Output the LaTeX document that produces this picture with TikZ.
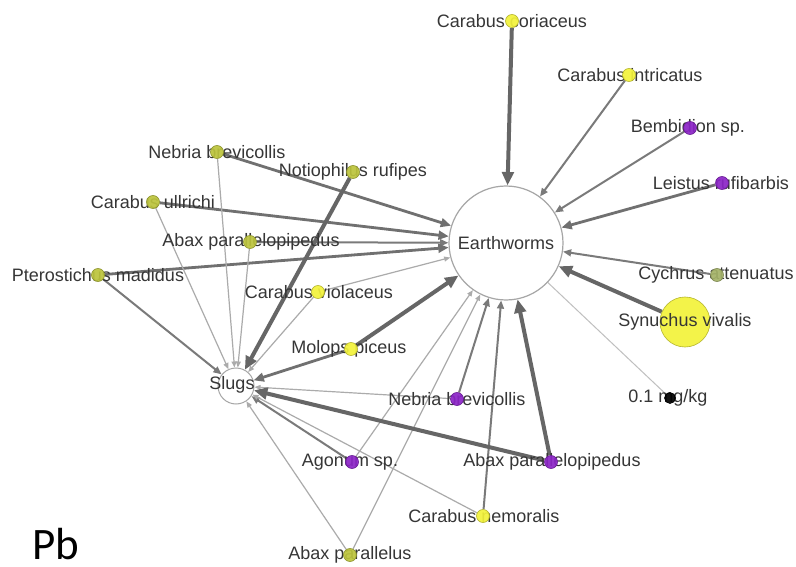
\documentclass[tikz,border=0pt]{standalone}
\usepackage{fontspec}
\setmainfont{Liberation Sans}
\newfontfamily\pbfont{Carlito}
\usetikzlibrary{arrows.meta}
\pgfdeclarelayer{bg}
\pgfsetlayers{bg,main}
\definecolor{olv}{HTML}{BCC43C}
\definecolor{yel}{HTML}{F2F23A}
\definecolor{pur}{HTML}{8B24C6}
\definecolor{cyc}{HTML}{A4B268}
\definecolor{txt}{HTML}{363636}
\begin{document}
\begin{tikzpicture}[x=1pt,y=-1pt,
  dot/.style={circle, inner sep=0pt, minimum size=13pt, draw=#1!75!black, line width=0.6pt, fill=#1, fill opacity=0.92},
  lab/.style={font=\fontsize{18}{18}\selectfont, text=txt, inner sep=0pt},
  big/.style={circle, draw=black!35, line width=1.2pt, fill=white, inner sep=0pt},
  arr/.style={-{Triangle[length=3pt 2.6, width=2pt 2.4]}},
  w4/.style={arr, line width=4pt, draw=black!60},
  w3/.style={arr, line width=2.8pt, draw=black!56},
  w2/.style={arr, line width=2pt, draw=black!52},
  w1/.style={arr, line width=1.2pt, draw=black!33},
  w0/.style={line width=1pt, draw=black!25}
]
\useasboundingbox (0,0) rectangle (796,567);

% hubs
\node[big, minimum size=114pt] (ew) at (506,243) {};
\node[lab] (ewl) at (506,243) {Earthworms};
\node[big, minimum size=36pt, line width=1pt] (sl) at (236,386) {};
\node[lab] (sll) at (232,385) {Slugs};

% species (label first, dot on top)
\node[lab] (lcc) at (512,21) {Carabus coriaceus};
\node[dot=yel] (cc) at (512,21) {};
\node[lab] (lci) at (630,75) {Carabus intricatus};
\node[dot=yel] (ci) at (629,75) {};
\node[lab] (lbs) at (688,128) {Bembidion sp.};
\node[dot=pur] (bs) at (690,128) {};
\node[lab] (llr) at (721,183) {Leistus rufibarbis};
\node[dot=pur] (lr) at (722,183) {};
\node[lab] (lca) at (716,275) {Cychrus attenuatus};
\node[dot=cyc] (ca) at (717,275) {};
\node[dot=yel, minimum size=50pt] (sv) at (685,322) {};
\node[lab] (lsv) at (685,322) {Synuchus vivalis};
\node[lab] (lmg) at (668,398) {0.1 mg/kg};
\node[dot=black, minimum size=11pt] (mg) at (670,398) {};
\node[lab] (lnbp) at (457,399) {Nebria brevicollis};
\node[dot=pur] (nbp) at (457,399) {};
\node[lab] (lapp) at (552,462) {Abax parallelopipedus};
\node[dot=pur] (app) at (551,462) {};
\node[lab] (las) at (350,462) {Agonum sp.};
\node[dot=pur] (as) at (352,462) {};
\node[lab] (lcn) at (484,516) {Carabus nemoralis};
\node[dot=yel] (cn) at (483,516) {};
\node[lab] (lap) at (350,555) {Abax parallelus};
\node[dot=olv] (ap) at (350,555) {};
\node[lab] (lmp) at (349,349) {Molops piceus};
\node[dot=yel] (mp) at (351,349) {};
\node[lab] (lnby) at (217,152) {Nebria brevicollis};
\node[dot=olv] (nby) at (217,152) {};
\node[lab] (lnr) at (353,172) {Notiophilus rufipes};
\node[dot=olv] (nr) at (353,172) {};
\node[lab] (lcu) at (153,202) {Carabus ullrichi};
\node[dot=olv] (cu) at (153,202) {};
\node[lab] (lapy) at (251,242) {Abax parallelopipedus};
\node[dot=olv] (apy) at (250,242) {};
\node[lab] (lpm) at (98,275) {Pterostichus madidus};
\node[dot=olv] (pm) at (98,275) {};
\node[lab] (lcv) at (319,292) {Carabus violaceus};
\node[dot=yel] (cv) at (318,292) {};

\node[font=\pbfont\fontsize{45}{45}\selectfont, anchor=base west, inner sep=0pt, text depth=0pt] (pb) at (32,559) {Pb};

\begin{pgfonlayer}{bg}
\fill[white] (0,0) rectangle (796,567);
% to Earthworms
\draw[w4] (cc) -- (ew);
\draw[w2] (ci) -- (ew);
\draw[w2] (bs) -- (ew);
\draw[w3] (lr) -- (ew);
\draw[w2] (ca) -- (ew);
\draw[w4] (sv) -- (ew);
\draw[w0] (mg) -- (ew);
\draw[w3] (nby) -- (ew);
\draw[w3] (cu) -- (ew);
\draw[w2] (apy) -- (ew);
\draw[w3] (pm) -- (ew);
\draw[w1] (cv) -- (ew);
\draw[w4] (mp) -- (ew);
\draw[w2] (nbp) -- (ew);
\draw[w1] (as) -- (ew);
\draw[w1] (ap) -- (ew);
\draw[w2] (cn) -- (ew);
\draw[w4] (app) -- (ew);
% to Slugs
\draw[w4] (nr) -- (sl);
\draw[w1] (nby) -- (sl);
\draw[w1] (cu) -- (sl);
\draw[w1] (apy) -- (sl);
\draw[w2] (pm) -- (sl);
\draw[w1] (cv) -- (sl);
\draw[w3] (mp) -- (sl);
\draw[w1] (nbp) -- (sl);
\draw[w4] (app) -- (sl);
\draw[w2] (as) -- (sl);
\draw[w1] (cn) -- (sl);
\draw[w1] (ap) -- (sl);
\end{pgfonlayer}
\end{tikzpicture}
\end{document}
